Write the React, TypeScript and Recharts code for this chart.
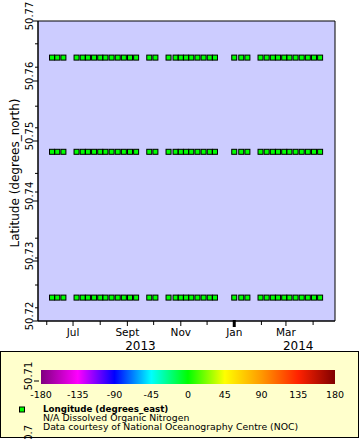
import React from 'react';
import { CartesianGrid, ReferenceArea, Scatter, ScatterChart, XAxis, YAxis } from 'recharts';

const FONT = '"DejaVu Sans", sans-serif';

// sampling dates (roughly weekly), same for every station
const sampleDates = [
  '2013-06-07', '2013-06-13', '2013-06-20',
  '2013-07-05', '2013-07-12', '2013-07-18', '2013-07-25', '2013-08-01', '2013-08-07',
  '2013-08-14', '2013-08-21', '2013-08-28', '2013-09-04', '2013-09-11',
  '2013-09-26', '2013-10-03',
  '2013-10-18', '2013-10-26', '2013-11-01', '2013-11-07', '2013-11-13', '2013-11-20',
  '2013-11-27', '2013-12-04', '2013-12-10',
  '2014-01-01', '2014-01-09', '2014-01-16',
  '2014-01-31', '2014-02-07', '2014-02-14', '2014-02-20', '2014-02-27', '2014-03-05',
  '2014-03-12', '2014-03-19', '2014-03-26', '2014-04-02', '2014-04-09',
];

const stationLats = [50.7639, 50.7482, 50.7239];

const latMajorTicks = [50.72, 50.73, 50.74, 50.75, 50.76, 50.77];
const latMinorTicks = [50.7662, 50.7623, 50.7558, 50.7522, 50.7446, 50.7415, 50.7338, 50.7305, 50.726, 50.7222];

const monthTicks = [
  '2013-06-01', '2013-07-01', '2013-08-01', '2013-09-01', '2013-10-01', '2013-11-01',
  '2013-12-01', '2014-01-01', '2014-02-01', '2014-03-01', '2014-04-01',
];
const monthLabels = ['', 'Jul', '', 'Sept', '', 'Nov', '', 'Jan', '', 'Mar', ''];

const yearTicks = ['2013-09-16', '2014-03-15'];
const yearLabels = ['2013', '2014'];

const timeRange = ['2013-05-22', '2014-04-26'];

const lonTicks = [-180, -135, -90, -45, 0, 45, 90, 135, 180];
const lonColors = ['#800080', '#ff00ff', '#0000ff', '#00ffff', '#00ff00', '#ffff00', '#ff9900', '#ff2200', '#800000'];

const toTime = (s: string) => Date.parse(s + 'T00:00:00Z');

const monthTickTimes = monthTicks.map(toTime);
const yearTickTimes = yearTicks.map(toTime);
const timeDomain = timeRange.map(toTime);

const points = stationLats.flatMap((lat) => sampleDates.map((d) => ({ t: toTime(d), lat })));

const MonthTick = ({ x, y, payload }: any) => {
  const i = monthTickTimes.indexOf(payload.value);
  const label = monthLabels[i];
  const yearStart = monthTicks[i] && monthTicks[i].endsWith('-01-01');
  return (
    <g>
      <line
        x1={x}
        x2={x}
        y1={yearStart ? y - 1 : y}
        y2={y + (yearStart ? 6 : label ? 5 : 4)}
        stroke='#000'
        strokeWidth={yearStart ? 3 : 1}
      />
      {label && (
        <text x={x} y={y + 15} textAnchor='middle' fontSize={10.5} fontFamily={FONT} fill='#000'>
          {label}
        </text>
      )}
    </g>
  );
};

const YearTick = ({ x, y, payload }: any) => {
  const i = yearTickTimes.indexOf(payload.value);
  return (
    <text x={x} y={y + 14} textAnchor='middle' fontSize={12} fontFamily={FONT} fill='#000'>
      {yearLabels[i]}
    </text>
  );
};

const LatTick = ({ x, y, payload }: any) => {
  const major = latMajorTicks.some((v) => Math.abs(v - payload.value) < 1e-9);
  const tx = x - 5.5;
  const ty = y - 5;
  return (
    <g>
      <line x1={x - (major ? 5 : 3)} x2={x} y1={y} y2={y} stroke='#000' />
      {major && (
        <text
          x={tx}
          y={ty}
          transform={`rotate(-90 ${tx} ${ty})`}
          textAnchor='middle'
          fontSize={10}
          fontFamily={FONT}
          fill='#000'
        >
          {payload.value.toFixed(2)}
        </text>
      )}
    </g>
  );
};

const LatTitle = ({ viewBox }: any) => {
  const cx = viewBox.x + 11;
  const cy = viewBox.y + viewBox.height / 2 + 2;
  return (
    <text x={cx} y={cy} transform={`rotate(-90 ${cx} ${cy})`} textAnchor='middle' fontSize={12} fontFamily={FONT} fill='#000'>
      Latitude (degrees_north)
    </text>
  );
};

const renderSquare = (props: any) => {
  const { cx, cy } = props;
  return <rect x={cx - 2.5} y={cy - 2.5} width={5} height={5} fill='#00ff00' stroke='#000' strokeWidth={1} />;
};

const ColorLegend = () => {
  const barX = 41;
  const barW = 294;
  const lonX = (v: number) => barX + ((v + 180) / 360) * barW;
  return (
    <svg width={360} height={88} style={{ position: 'absolute', left: 0, top: 351 }}>
      <defs>
        <linearGradient id='lonGrad' x1='0' x2='1' y1='0' y2='0'>
          {lonColors.map((c, i) => (
            <stop key={i} offset={(lonTicks[i] + 180) / 360} stopColor={c} />
          ))}
        </linearGradient>
      </defs>
      <rect x={0.5} y={0.5} width={358} height={86} fill='#ffffcc' stroke='#000' />
      <rect x={barX} y={19} width={barW} height={14} fill='url(#lonGrad)' />
      {lonTicks.map((v) => (
        <text key={v} x={lonX(v)} y={46.5} textAnchor='middle' fontSize={9.5} fontFamily={FONT} fill='#000'>
          {v}
        </text>
      ))}
      {/* y-axis labels spilling below the plot */}
      <line x1={34} x2={39} y1={30} y2={30} stroke='#000' />
      <text x={32} y={25} transform='rotate(-90 32 25)' textAnchor='middle' fontSize={10} fontFamily={FONT} fill='#000'>
        50.71
      </text>
      <text x={32} y={85} transform='rotate(-90 32 85)' textAnchor='middle' fontSize={10} fontFamily={FONT} fill='#000'>
        50.7
      </text>
      <rect x={19.5} y={56} width={5} height={5} fill='#00ff00' stroke='#000' />
      <text x={43} y={61} fontSize={8.7} fontWeight='bold' fontFamily={FONT} fill='#000'>
        Longitude (degrees_east)
      </text>
      <text x={43} y={70} fontSize={9.3} fontFamily={FONT} fill='#000'>
        N/A Dissolved Organic Nitrogen
      </text>
      <text x={43} y={78.5} fontSize={9.3} fontFamily={FONT} fill='#000'>
        Data courtesy of National Oceanography Centre (NOC)
      </text>
    </svg>
  );
};

export default function App() {
  return (
    <div style={{ position: 'absolute', left: 0, top: 0, width: 360, height: 440, background: '#fff', fontFamily: FONT }}>
      <ScatterChart width={360} height={356} margin={{ top: 21, right: 25, bottom: 5, left: 8 }}>
        <CartesianGrid horizontal={false} vertical={false} fill='#ccccff' fillOpacity={1} />
        <XAxis
          xAxisId='main'
          dataKey='t'
          type='number'
          domain={timeDomain}
          ticks={monthTickTimes}
          interval={0}
          allowDataOverflow
          height={15}
          tickSize={0}
          tickMargin={0}
          tickLine={false}
          axisLine={{ stroke: '#000' }}
          tick={<MonthTick />}
        />
        <XAxis
          xAxisId='year'
          dataKey='t'
          type='number'
          domain={timeDomain}
          ticks={yearTickTimes}
          interval={0}
          allowDataOverflow
          height={15}
          tickSize={0}
          tickMargin={0}
          tickLine={false}
          axisLine={false}
          tick={<YearTick />}
        />
        <YAxis
          dataKey='lat'
          type='number'
          domain={[50.72, 50.77]}
          ticks={[...latMajorTicks, ...latMinorTicks]}
          interval={0}
          allowDataOverflow
          width={30}
          tickSize={0}
          tickMargin={0}
          tickLine={false}
          axisLine={{ stroke: '#000' }}
          tick={<LatTick />}
          label={<LatTitle />}
        />
        <Scatter data={points} xAxisId='main' shape={renderSquare} isAnimationActive={false} />
        <ReferenceArea
          xAxisId='main'
          x1={timeDomain[0]}
          x2={timeDomain[1]}
          y1={50.72}
          y2={50.77}
          fill='none'
          stroke='#000'
          ifOverflow='visible'
        />
      </ScatterChart>
      <ColorLegend />
    </div>
  );
}
